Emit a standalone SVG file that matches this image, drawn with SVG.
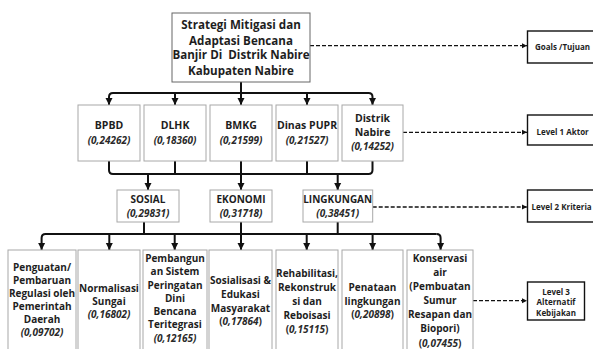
<svg xmlns="http://www.w3.org/2000/svg" width="593" height="349" viewBox="0 0 593 349">
<defs>
<marker id="ah" markerWidth="8" markerHeight="8" refX="7" refY="4" orient="auto" markerUnits="userSpaceOnUse">
<path d="M0,0.5 L7,4 L0,7.5 Z" fill="#111"/>
</marker>
<marker id="ahs" markerWidth="6" markerHeight="6" refX="5" refY="3" orient="auto" markerUnits="userSpaceOnUse">
<path d="M0,0.5 L5,3 L0,5.5 Z" fill="#111"/>
</marker>
<style>
.box{fill:#fff;stroke:#a8a8a8;stroke-width:1}
.top{fill:#fff;stroke:#666;stroke-width:1}
.lvl{fill:#fff;stroke:#111;stroke-width:1.4}
text{font-family:"Open Sans","Noto Sans","DejaVu Sans",sans-serif;font-weight:bold;fill:#1e1e1e;text-anchor:middle}
.t1{font-size:11.6px}
.t2{font-size:10.5px}
.t3{font-size:10px}
.v{font-style:italic;font-size:10px;fill:#2a2a2a}
.up{font-style:normal}
.lab{font-size:8px;text-anchor:start}
.labc{font-size:8px}
.con{fill:none;stroke:#111;stroke-width:2}
.dash{fill:none;stroke:#111;stroke-width:1.3;stroke-dasharray:4 2}
</style>
</defs>

<g id="connectors">
<!-- top to level 1 -->
<path class="con" d="M241,82 V93"/>
<path class="con" d="M241,93 H113 Q109,93 109,97 V105" marker-end="url(#ah)"/>
<path class="con" d="M241,93 H368.5 Q372.5,93 372.5,97 V105" marker-end="url(#ah)"/>
<path class="con" d="M175,93 V105" marker-end="url(#ah)"/>
<path class="con" d="M241,93 V105" marker-end="url(#ah)"/>
<path class="con" d="M307,93 V105" marker-end="url(#ah)"/>
<!-- level 1 to level 2 -->
<path class="con" d="M109,161 V170 Q109,174 113,174 H368.5 Q372.5,174 372.5,170 V161"/>
<path class="con" d="M175,161 V174"/>
<path class="con" d="M241,161 V174"/>
<path class="con" d="M307,161 V174"/>
<path class="con" d="M148,174 V190" marker-end="url(#ah)"/>
<path class="con" d="M241,174 V190" marker-end="url(#ah)"/>
<path class="con" d="M337.7,174 V190" marker-end="url(#ah)"/>
<!-- level 2 to level 3 -->
<path class="con" d="M144,222 V234"/>
<path class="con" d="M241,222 V234"/>
<path class="con" d="M337.7,222 V234"/>
<path class="con" d="M436.6,234 H45.6 Q41.6,234 41.6,238 V250" marker-end="url(#ah)"/>
<path class="con" d="M436.6,234 Q440.6,234 440.6,238 V250" marker-end="url(#ah)"/>
<path class="con" d="M109.3,234 V250" marker-end="url(#ah)"/>
<path class="con" d="M174.7,234 V250" marker-end="url(#ah)"/>
<path class="con" d="M241,234 V250" marker-end="url(#ah)"/>
<path class="con" d="M306.7,234 V250" marker-end="url(#ah)"/>
<path class="con" d="M372.6,234 V250" marker-end="url(#ah)"/>
<!-- dashed level links -->
<path class="dash" d="M310,45.7 H527" marker-end="url(#ahs)"/>
<path class="dash" d="M403,132.3 H527" marker-end="url(#ahs)"/>
<path class="dash" d="M372.7,207 H527" marker-end="url(#ahs)"/>
<path class="dash" d="M473,300.7 H527" marker-end="url(#ahs)"/>
</g>

<g id="goal">
<rect class="top" x="172" y="13" width="138" height="69"/>
<text class="t1" x="241" y="29">Strategi Mitigasi dan</text>
<text class="t1" x="241" y="44.5">Adaptasi Bencana</text>
<text class="t1" x="241" y="59" xml:space="preserve">Banjir Di  Distrik Nabire</text>
<text class="t1" x="241" y="74.5">Kabupaten Nabire</text>
</g>

<g id="bpbd">
<rect class="box" x="78" y="105" width="62" height="56"/>
<text class="t2" x="109" y="129">BPBD</text>
<text class="v" x="109" y="144">(0,24262)</text>
</g>
<g id="dlhk">
<rect class="box" x="144" y="105" width="62" height="56"/>
<text class="t2" x="175" y="129">DLHK</text>
<text class="v" x="175" y="144">(0,18360)</text>
</g>
<g id="bmkg">
<rect class="box" x="210" y="105" width="62" height="56"/>
<text class="t2" x="241" y="129">BMKG</text>
<text class="v" x="241" y="144">(0,21599)</text>
</g>
<g id="pupr">
<rect class="box" x="276" y="105" width="62" height="56"/>
<text class="t2" x="307" y="129">Dinas PUPR</text>
<text class="v" x="307" y="144">(0,21527)</text>
</g>
<g id="distrik">
<rect class="box" x="342" y="105" width="61" height="56"/>
<text class="t2" x="372.5" y="122">Distrik</text>
<text class="t2" x="372.5" y="136">Nabire</text>
<text class="v" x="372.5" y="150">(0,14252)</text>
</g>

<g id="sosial">
<rect class="box" x="117" y="190" width="62" height="32"/>
<text class="t3" x="148" y="203">SOSIAL</text>
<text class="v" x="148" y="217">(0,29831)</text>
</g>
<g id="ekonomi">
<rect class="box" x="210" y="190" width="62" height="32"/>
<text class="t3" x="241" y="203">EKONOMI</text>
<text class="v" x="241" y="217">(0,31718)</text>
</g>
<g id="lingkungan">
<rect class="box" x="303" y="190" width="69.7" height="32"/>
<text class="t3" x="337.7" y="203">LINGKUNGAN</text>
<text class="v" x="337.7" y="217">(0,38451)</text>
</g>

<g id="alt1">
<rect class="box" x="8" y="250" width="68" height="105"/>
<text class="t3" x="42" y="271.3">Penguatan/</text>
<text class="t3" x="42" y="284.2">Pembaruan</text>
<text class="t3" x="42" y="297.1">Regulasi oleh</text>
<text class="t3" x="42" y="310">Pemerintah</text>
<text class="t3" x="42" y="322.9">Daerah</text>
<text class="v" x="42" y="335.8">(0,09702)</text>
</g>
<g id="alt2">
<rect class="box" x="78" y="250" width="62" height="105"/>
<text class="t3" x="109" y="291.9">Normalisasi</text>
<text class="t3" x="109" y="304.9">Sungai</text>
<text class="v" x="109" y="317.9">(0,16802)</text>
</g>
<g id="alt3">
<rect class="box" x="143" y="250" width="64" height="105"/>
<text class="t3" x="175" y="261.9">Pembangun</text>
<text class="t3" x="175" y="275.2">an Sistem</text>
<text class="t3" x="175" y="288.5">Peringatan</text>
<text class="t3" x="175" y="301.8">Dini</text>
<text class="t3" x="175" y="315.1">Bencana</text>
<text class="t3" x="175" y="328.4">Teritegrasi</text>
<text class="v" x="175" y="341.7">(0,12165)</text>
</g>
<g id="alt4">
<rect class="box" x="209" y="250" width="63" height="105"/>
<text class="t3" x="240.5" y="283.7">Sosialisasi &amp;</text>
<text class="t3" x="240.5" y="297.6">Edukasi</text>
<text class="t3" x="240.5" y="311.5">Masyarakat</text>
<text class="v" x="240.5" y="325.4"><tspan class="up">(</tspan>0,17864<tspan class="up">)</tspan></text>
</g>
<g id="alt5">
<rect class="box" x="276" y="250" width="62" height="105"/>
<text class="t3" x="307" y="277">Rehabilitasi,</text>
<text class="t3" x="307" y="291.1">Rekonstruk</text>
<text class="t3" x="307" y="305.2">si dan</text>
<text class="t3" x="307" y="319.3">Reboisasi</text>
<text class="v" x="307" y="333.4"><tspan class="up">(</tspan>0,15115<tspan class="up">)</tspan></text>
</g>
<g id="alt6">
<rect class="box" x="342" y="250" width="61" height="105"/>
<text class="t3" x="372.5" y="291.3">Penataan</text>
<text class="t3" x="372.5" y="304.7">lingkungan</text>
<text class="v" x="372.5" y="318.1"><tspan class="up">(</tspan>0,20898<tspan class="up">)</tspan></text>
</g>
<g id="alt7">
<rect class="box" x="407" y="250" width="66" height="105"/>
<text class="t3" x="440" y="261.9">Konservasi</text>
<text class="t3" x="440" y="276">air</text>
<text class="t3" x="440" y="290.1">(Pembuatan</text>
<text class="t3" x="440" y="304.2">Sumur</text>
<text class="t3" x="440" y="318.3">Resapan dan</text>
<text class="t3" x="440" y="332.4">Biopori)</text>
<text class="v" x="440" y="346.5"><tspan class="up">(</tspan>0,07455<tspan class="up">)</tspan></text>
</g>

<g id="goals-label">
<rect class="lvl" x="527.5" y="31" width="70" height="32"/>
<text class="lab" x="535" y="49.5">Goals /Tujuan</text>
</g>
<g id="level1-label">
<rect class="lvl" x="527.5" y="115" width="70" height="30"/>
<text class="lab" x="536.5" y="135">Level 1 Aktor</text>
</g>
<g id="level2-label">
<rect class="lvl" x="527.5" y="190" width="70" height="32"/>
<text class="lab" x="531.5" y="210">Level 2 Kriteria</text>
</g>
<g id="level3-label">
<rect class="lvl" x="527.5" y="282" width="57" height="38"/>
<text class="labc" x="556" y="294.5">Level 3</text>
<text class="labc" x="556" y="305">Alternatif</text>
<text class="labc" x="556" y="315.5">Kebijakan</text>
</g>
</svg>
